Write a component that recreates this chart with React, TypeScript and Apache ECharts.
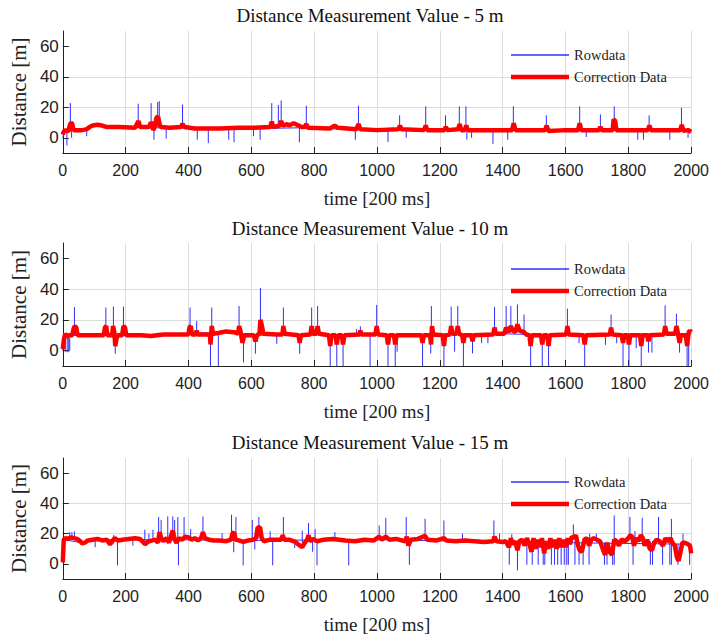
import { useEffect, useRef } from 'react';
import * as echarts from 'echarts';

// ---------- texts / ticks ----------
const TITLES = [
  'Distance Measurement Value - 5 m',
  'Distance Measurement Value - 10 m',
  'Distance Measurement Value - 15 m',
];
const X_NAME = 'time [200 ms]';
const Y_NAME = 'Distance [m]';
const SERIES_NAMES = ['Rowdata', 'Correction Data'];
const Y_LABELS = [0, 20, 40, 60];
const X_MIN = 0;
const X_MAX = 2000;
const X_STEP = 200;
const Y_MIN = -10;
const Y_MAX = 70;

// ---------- panel 1 : 5 m ----------
const raw5Base: number[][] = [
  [0, 0], [5, 5], [15, 4], [25, 6], [40, 5], [80, 6], [100, 8], [130, 7.5], [300, 6.5],
  [600, 6], [750, 6.5], [1000, 5], [2000, 4.5],
];
// [time, from, to]
const raw5Spikes: number[][] = [
  [13, -5, 4], [24, 5, 22.7], [28, 0, 5], [76, 1, 5], [240, 6.5, 22.3], [281, 7, 22.7],
  [290, -1.3, 6.5], [302, 7, 23.4], [307, 7, 24], [329, -0.5, 6.5], [381, 7, 21.7],
  [428, -1.3, 6], [463, -3.5, 6], [528, -1.3, 6], [545, -3, 6], [607, 1, 6.5], [628, -1.3, 6.5],
  [665, 7, 22.7], [686, 7, 21.5], [695, 7, 24.5], [753, -3, 6.5], [775, 7, 21], [931, -1.3, 5.5],
  [941, 5.5, 21], [1035, -2.8, 5], [1072, 5.5, 14.7], [1093, 0, 5], [1155, 5, 20.6],
  [1218, 5, 14.7], [1262, 5, 20.6], [1283, 5, 20.6], [1286, -1.3, 5], [1301, 0, 5],
  [1369, -4, 5], [1416, -1.3, 5], [1434, 5, 20.6], [1539, 5, 14.7], [1645, 5, 20.6],
  [1666, 0.5, 5], [1711, 5, 15.3], [1755, 5, 20.6], [1830, -1.3, 5], [1848, -1.3, 5],
  [1866, 5, 14.7], [1932, -1.3, 5], [1969, 5, 19.7], [1990, 0, 5],
];
const corr5: number[][] = [
  [0, 2], [3, 4], [10, 5], [18, 4], [22, 8], [26, 10], [30, 9], [34, 5], [60, 5], [75, 5.5],
  [85, 7], [95, 8], [110, 8.5], [125, 8], [140, 7], [180, 7], [230, 6.5], [236, 9], [241, 11],
  [246, 7], [275, 7], [280, 10], [284, 9], [288, 5], [292, 7], [298, 13], [303, 14], [308, 9],
  [312, 7], [340, 6.5], [375, 7], [381, 9], [387, 7], [420, 6], [500, 6], [560, 6.5],
  [600, 6.5], [660, 7], [665, 10.5], [670, 7], [690, 8], [695, 11], [700, 8], [715, 9],
  [720, 8], [735, 9.5], [745, 8.5], [760, 7], [770, 7], [775, 9], [780, 6.5], [850, 6],
  [865, 8], [875, 6.5], [935, 5.5], [941, 9], [947, 5.5], [1000, 5], [1068, 5.5], [1073, 8],
  [1078, 5.5], [1150, 5], [1155, 8], [1160, 5], [1214, 5], [1219, 7], [1224, 5], [1258, 5.5],
  [1263, 9], [1268, 5], [1279, 5], [1284, 8], [1289, 5], [1400, 5], [1430, 5], [1435, 9.5],
  [1441, 5], [1535, 5], [1540, 8], [1545, 4.5], [1600, 5], [1640, 5], [1645, 9.5], [1650, 5],
  [1706, 5], [1711, 7], [1716, 5], [1750, 5], [1753, 12], [1758, 11], [1762, 5], [1862, 5],
  [1867, 8], [1872, 5], [1965, 5], [1970, 8.5], [1975, 4.5], [1990, 5], [2000, 4],
];

// ---------- panel 2 : 10 m ----------
const raw10Base: number[][] = [
  [0, 0], [4, 9], [10, 10], [280, 9.5], [320, 10.5], [520, 12], [560, 11], [600, 10],
  [1400, 11], [1480, 10.5], [2000, 11],
];
const raw10Spikes: number[][] = [
  [8, -1, 10], [14, -1, 10], [19, -1, 10], [22, 0, 8], [37, 10, 28.3], [137, 10, 28],
  [161, 10, 28.7], [167, -2, 10], [193, 10, 28.7], [405, 10.5, 28], [426, 10.5, 19.4],
  [470, -12, 10.5], [474, 10.5, 28], [495, -12, 11], [561, 11, 29], [575, -7.7, 11],
  [613, -2, 10], [629, 11, 40.8], [681, 4.4, 10.5], [702, 10.5, 28], [754, -2, 10],
  [792, 10.5, 28], [811, 11, 29], [851, -12, 10], [872, -12, 10], [892, -12, 10],
  [935, 10.5, 14], [947, 10.5, 15.8], [978, -12, 10.5], [999, 10.5, 29.7], [1035, -12, 10],
  [1058, -12, 10], [1064, -0.7, 10], [1145, -12, 10], [1171, -1.8, 10], [1173, 10.5, 29],
  [1213, -12, 10], [1236, 10.5, 28.6], [1247, -0.7, 10.5], [1257, 11, 29], [1275, -12, 10],
  [1304, -1.8, 10], [1333, 4.8, 10], [1353, 4.8, 10], [1374, 10.5, 28.4], [1411, 11, 29],
  [1426, 12, 29], [1447, 12, 30], [1468, 11, 23.5], [1489, -12, 10], [1526, -12, 10],
  [1546, -12, 10], [1606, 10.5, 27.3], [1643, 4.8, 10], [1661, -12, 10], [1727, 3.7, 10],
  [1745, 10.5, 23.5], [1763, 4.8, 10], [1783, -12, 10], [1802, -12, 10], [1825, 1.5, 10],
  [1841, -12, 10], [1864, -1.3, 10], [1875, -1.3, 10], [1917, 10.5, 29.5], [1953, 11, 24],
  [1963, -1.3, 10], [1987, -12, 10], [1992, -12, 12],
];
const corr10: number[][] = [
  [0, 1], [4, 8], [8, 11], [14, 9], [20, 10], [30, 10], [34, 14], [38, 16], [43, 15], [47, 10],
  [130, 10], [134, 15], [138, 16], [142, 10], [157, 10], [160, 16], [164, 12], [167, 3],
  [171, 8], [175, 10], [189, 10], [193, 16], [198, 15], [202, 10], [250, 10], [280, 9.5],
  [320, 10.5], [400, 10.5], [403, 15], [407, 16], [411, 10.5], [423, 10.5], [426, 13],
  [429, 10.5], [468, 10.5], [470, 4], [474, 16], [478, 11], [495, 11.5], [520, 12.5],
  [545, 12], [558, 11], [561, 16], [565, 13], [572, 5], [577, 10], [608, 10], [613, 6],
  [618, 10], [626, 11], [629, 20], [634, 16], [638, 11], [680, 10.5], [699, 10.5], [702, 16],
  [706, 11], [750, 10], [754, 5], [758, 10], [788, 10.5], [792, 16], [796, 11], [807, 11],
  [811, 16], [815, 11], [847, 10], [851, 3], [855, 10], [868, 10], [872, 4], [876, 10],
  [888, 10], [892, 4], [896, 10], [944, 10.5], [947, 13], [950, 10.5], [995, 10.5], [999, 16],
  [1003, 10.5], [1031, 10], [1035, 4], [1039, 10], [1054, 10], [1058, 4], [1062, 10],
  [1141, 10], [1145, 5], [1149, 10], [1169, 10], [1172, 4], [1175, 16], [1179, 10.5],
  [1209, 10], [1213, 3], [1217, 10], [1232, 10.5], [1236, 16], [1240, 11], [1253, 11],
  [1257, 16], [1261, 11], [1271, 10], [1275, 5], [1279, 10], [1300, 10], [1304, 6], [1308, 10],
  [1370, 10.5], [1374, 15], [1378, 11], [1405, 11], [1411, 15], [1418, 12], [1426, 16],
  [1432, 13], [1440, 12], [1447, 17], [1454, 13], [1468, 12], [1475, 10.5], [1485, 10],
  [1489, 3], [1493, 10], [1522, 10], [1526, 4], [1530, 10], [1542, 10], [1546, 3], [1550, 10],
  [1602, 10.5], [1606, 16], [1610, 10.5], [1657, 10], [1661, 4], [1665, 10], [1741, 10.5],
  [1745, 15], [1749, 10.5], [1779, 10], [1783, 5], [1787, 10], [1798, 10], [1802, 4],
  [1806, 10], [1837, 10], [1841, 3], [1845, 10], [1860, 10], [1864, 6], [1868, 10],
  [1913, 10.5], [1917, 16], [1921, 11], [1949, 11], [1953, 16], [1958, 11], [1963, 5],
  [1967, 10], [1983, 10], [1987, 3], [1992, 12], [1996, 13], [2000, 12],
];

// ---------- panel 3 : 15 m ----------
const raw15Base: number[][] = [
  [0, 1], [3, 16], [60, 14], [100, 16], [300, 16], [600, 15.5], [1000, 16], [1400, 14.5],
  [2000, 13],
];
const raw15Spikes: number[][] = [
  [22, 16, 21], [29, 16, 21], [37, 16, 21.5], [103, 11, 16], [147, 12, 16], [162, 15, 19],
  [174, -1, 16], [223, 12, 16.5], [261, 14, 22.6], [274, 14.5, 20], [287, 15.5, 22.6],
  [305, 15, 31], [313, 16, 29], [334, 16, 31.4], [350, 17, 31.4], [356, 16, 29], [366, 15, 31],
  [368, -1, 16], [386, 16, 31], [407, 16, 23], [446, 17, 31.4], [507, 15.5, 20.4],
  [537, 16, 32.5], [544, 7.7, 16], [551, 16, 31], [574, -1, 15], [603, 16, 29], [611, 9.5, 16],
  [624, 17, 31], [660, 16, 21.5], [668, -1, 16], [702, 16, 31], [738, 10.5, 15], [762, 14, 22],
  [782, 16, 27], [795, 8, 16], [803, 15, 23], [809, -1, 15], [866, 16, 21], [910, -1, 15.5],
  [1007, 16, 25.4], [1028, 16, 30.4], [1093, 16, 31], [1103, -0.6, 15], [1153, 16, 29.8],
  [1213, 16, 28.7], [1272, 15.5, 20], [1372, 15, 28.7], [1390, 14.5, 20], [1421, -0.6, 14.5],
  [1429, 15, 19.6], [1447, -4.3, 14], [1477, -0.6, 14], [1494, -0.6, 14], [1513, -0.6, 14],
  [1529, -0.6, 14], [1534, -0.6, 14], [1555, -0.6, 14], [1565, -0.6, 14], [1575, -0.6, 14],
  [1586, -0.6, 14], [1596, -0.6, 14], [1604, -0.6, 14], [1609, -0.6, 14], [1625, 17, 26],
  [1630, -0.6, 15], [1643, -0.6, 14], [1656, -0.6, 14], [1675, -0.6, 15], [1677, 16, 20],
  [1698, 16, 20], [1724, -0.6, 14], [1732, -0.6, 14], [1750, -0.6, 14], [1755, -0.6, 32],
  [1805, 17, 31], [1815, -0.6, 15], [1821, 17, 21.7], [1844, 17, 30.4], [1870, -0.6, 15],
  [1877, -0.6, 15], [1896, 16, 31], [1909, -0.6, 15], [1932, -0.6, 15], [1937, -0.6, 29.8],
  [1958, -0.6, 13], [1974, 14, 20], [1995, -0.6, 13],
];
const corr15: number[][] = [
  [0, 1], [3, 16], [8, 17], [15, 16.5], [25, 17.5], [35, 17], [45, 16.5], [55, 15], [62, 13.5],
  [70, 14], [80, 15.5], [95, 16], [110, 16.5], [125, 15.5], [140, 16], [150, 13], [158, 15],
  [165, 17], [175, 15.5], [190, 16], [210, 16.5], [230, 17], [245, 16.5], [255, 14.5],
  [262, 13], [270, 14.5], [285, 15.5], [295, 16], [303, 14], [308, 21], [313, 17], [320, 15],
  [330, 17], [338, 14], [345, 19], [350, 22], [356, 16], [362, 14], [370, 17], [380, 16],
  [390, 18], [400, 17.5], [410, 16], [420, 17], [430, 15.5], [440, 17], [446, 21], [452, 17],
  [465, 16], [480, 15.5], [500, 15.5], [520, 15], [535, 16], [540, 20], [545, 21], [550, 16],
  [560, 15.5], [575, 14.5], [590, 15.5], [605, 16], [615, 17], [620, 24], [628, 24], [633, 17],
  [640, 15], [660, 16], [680, 16], [695, 16], [700, 19], [705, 16], [720, 16], [740, 14.5],
  [755, 12], [762, 11], [770, 14], [778, 16], [782, 19], [786, 15], [795, 16.5], [810, 15],
  [830, 16], [860, 16.5], [880, 16], [900, 15.5], [930, 15], [960, 16], [990, 15.5],
  [1007, 18], [1015, 16], [1028, 18], [1040, 16], [1060, 16.5], [1090, 15], [1095, 18],
  [1100, 12], [1108, 16], [1130, 16.5], [1153, 18.5], [1160, 16], [1190, 15.5], [1213, 17],
  [1220, 15.5], [1250, 15], [1280, 15.5], [1310, 15], [1340, 14.5], [1370, 15], [1374, 18],
  [1380, 15], [1400, 14.5], [1410, 15], [1420, 11], [1426, 17], [1432, 13], [1440, 15],
  [1447, 9], [1453, 15], [1462, 16], [1470, 12], [1477, 17], [1485, 13], [1492, 8], [1498, 17],
  [1505, 10], [1512, 16], [1518, 11], [1525, 17], [1532, 7], [1538, 15], [1545, 10],
  [1552, 17], [1558, 11], [1565, 16], [1572, 10], [1580, 17], [1587, 11], [1594, 16],
  [1600, 11], [1607, 17], [1614, 13], [1620, 18], [1627, 17], [1633, 19], [1640, 12],
  [1645, 9], [1652, 8], [1660, 16], [1668, 17], [1675, 12], [1682, 16], [1690, 17], [1700, 16],
  [1710, 15], [1720, 9], [1726, 6], [1733, 14], [1740, 8], [1748, 6], [1755, 16], [1762, 15],
  [1770, 12], [1778, 16], [1790, 15], [1800, 17], [1806, 19], [1812, 18], [1818, 12],
  [1825, 17], [1832, 15], [1840, 19], [1846, 17], [1852, 12], [1860, 16], [1868, 10],
  [1875, 9], [1882, 14], [1890, 16], [1900, 15], [1910, 12], [1918, 17], [1926, 15],
  [1934, 17], [1940, 14], [1948, 12], [1955, 4], [1960, 2], [1966, 8], [1972, 14], [1980, 14],
  [1990, 13], [1996, 12], [2000, 7],
];

const PANELS = [
  { base: raw5Base, spikes: raw5Spikes, corr: corr5 },
  { base: raw10Base, spikes: raw10Spikes, corr: corr10 },
  { base: raw15Base, spikes: raw15Spikes, corr: corr15 },
];

// ---------- layout ----------
const GRID_TOPS = [31, 243, 458];
const GRID_HEIGHTS = [122, 123, 121];
const TITLE_TOPS = [1, 214, 428];
const LEGEND_CENTERS = [[55, 77], [269, 291], [482, 504]];
const BLUE = '#2f2fff';
const RED = '#ff0000';
const SERIF = '"Liberation Serif", "Times New Roman", serif';
const SANS = '"Liberation Sans", Arial, sans-serif';

export default function App() {
  const ref = useRef<HTMLDivElement>(null);

  useEffect(() => {
    if (!ref.current) return;
    const chart = echarts.init(ref.current, null, { renderer: 'svg' });

    const grid: any[] = [];
    const xAxis: any[] = [];
    const yAxis: any[] = [];
    const title: any[] = [];
    const legend: any[] = [];
    const series: any[] = [];

    PANELS.forEach((p, i) => {
      grid.push({ left: 54, right: 19, top: GRID_TOPS[i], height: GRID_HEIGHTS[i] });
      title.push({
        text: TITLES[i],
        left: 365,
        top: TITLE_TOPS[i],
        textAlign: 'center',
        textStyle: { fontFamily: SERIF, fontSize: 19, fontWeight: 'normal', color: '#111' },
      });
      SERIES_NAMES.forEach((nm, k) => {
        legend.push({
          data: [{ name: nm, icon: 'rect' }],
          orient: 'vertical',
          left: 511,
          top: LEGEND_CENTERS[i][k] - 8,
          padding: 0,
          itemWidth: 58,
          itemHeight: k === 0 ? 1.5 : 4.5,
          textStyle: { fontFamily: SERIF, fontSize: 14.5, lineHeight: 16, color: '#222' },
        });
      });
      xAxis.push({
        type: 'value',
        gridIndex: i,
        min: X_MIN,
        max: X_MAX,
        interval: X_STEP,
        name: X_NAME,
        nameLocation: 'middle',
        nameGap: 36,
        nameTextStyle: { fontFamily: SERIF, fontSize: 19, color: '#222' },
        axisLine: { onZero: false, lineStyle: { color: '#222', width: 1 } },
        axisTick: { inside: true, length: 6, lineStyle: { color: '#222' } },
        axisLabel: {
          fontFamily: SANS,
          fontSize: 16,
          color: '#222',
          margin: 9,
          formatter: (v: number) => String(v),
        },
        splitLine: { show: true, showMinLine: false, lineStyle: { color: '#dcdcdc', width: 1 } },
      });
      yAxis.push({
        type: 'value',
        gridIndex: i,
        min: Y_MIN,
        max: Y_MAX,
        minInterval: 20,
        maxInterval: 20,
        name: Y_NAME,
        nameLocation: 'middle',
        nameGap: 26,
        nameTextStyle: { fontFamily: SERIF, fontSize: 21, color: '#222' },
        axisLine: { show: true, lineStyle: { color: '#222', width: 1 } },
        axisTick: { show: true, inside: true, length: 6, customValues: Y_LABELS, lineStyle: { color: '#222' } },
        axisLabel: {
          fontFamily: SANS,
          fontSize: 17,
          color: '#222',
          margin: 4,
          customValues: Y_LABELS,
          formatter: (v: number) => (Y_LABELS.includes(v) ? String(v) : ''),
        },
        splitLine: { show: true, showMinLine: false, showMaxLine: false, lineStyle: { color: '#dcdcdc', width: 1 } },
      });
      series.push({
        name: SERIES_NAMES[0],
        type: 'line',
        xAxisIndex: i,
        yAxisIndex: i,
        data: p.base,
        symbol: 'none',
        lineStyle: { color: BLUE, width: 1 },
        itemStyle: { color: BLUE },
        clip: true,
      });
      series.push({
        name: SERIES_NAMES[0],
        type: 'custom',
        xAxisIndex: i,
        yAxisIndex: i,
        data: p.spikes,
        dimensions: ['t', 'from', 'to'],
        encode: { x: 0, y: [1, 2] },
        clip: true,
        renderItem: (_params: any, api: any) => {
          const a = api.coord([api.value(0), api.value(1)]);
          const b = api.coord([api.value(0), api.value(2)]);
          return {
            type: 'line',
            shape: { x1: a[0], y1: a[1], x2: b[0], y2: b[1] },
            style: { stroke: BLUE, lineWidth: 1 },
          };
        },
      });
      series.push({
        name: SERIES_NAMES[1],
        type: 'line',
        xAxisIndex: i,
        yAxisIndex: i,
        data: p.corr,
        symbol: 'none',
        lineStyle: { color: RED, width: 4.5 },
        itemStyle: { color: RED },
        clip: true,
      });
    });

    chart.setOption({
      animation: false,
      backgroundColor: '#ffffff',
      title,
      legend,
      grid,
      xAxis,
      yAxis,
      series,
    });

    return () => chart.dispose();
  }, []);

  return (
    <div
      ref={ref}
      style={{ position: 'fixed', left: 0, top: 0, width: 712, height: 640, background: '#fff' }}
    />
  );
}
